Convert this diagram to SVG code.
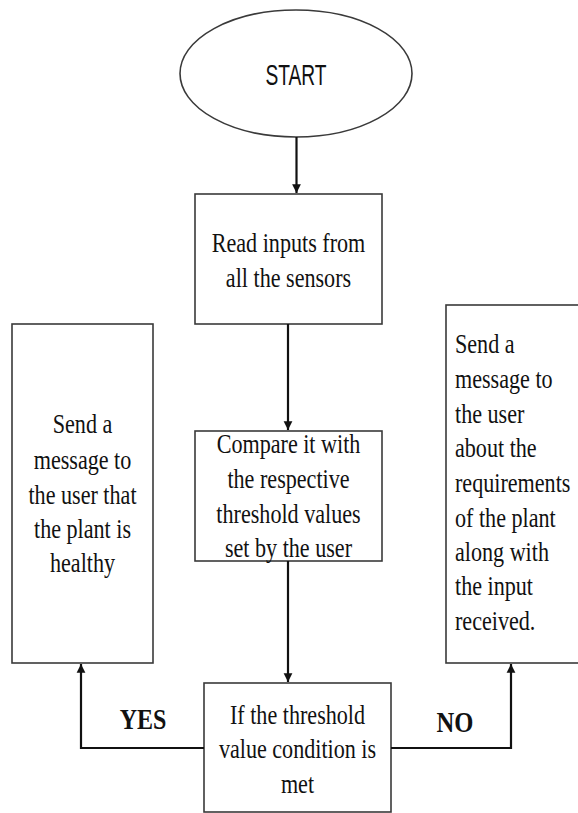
<svg xmlns="http://www.w3.org/2000/svg" width="578" height="813" viewBox="0 0 578 813">
<style>
.box{fill:#fff;stroke:#3a3a3a;stroke-width:1.6}
.t{font-size:28px;fill:#111}
.c{text-anchor:middle}
.lbl{font-size:30px;font-weight:bold;fill:#111;text-anchor:middle}
.conn{fill:none;stroke:#111;stroke-width:2.2}
</style>
<defs>
<marker id="ah" viewBox="0 0 10 10" refX="10" refY="5" markerWidth="4" markerHeight="4.5" orient="auto" markerUnits="strokeWidth">
<path d="M0,0 L10,5 L0,10 z" fill="#111"/>
</marker>
</defs>
<rect width="578" height="813" fill="#fff"/>
<g id="start">
<ellipse cx="296" cy="73.5" rx="116" ry="63.5" class="box"/>
<g transform="translate(296,0) scale(0.64,1)"><text x="0" y="85" class="c" font-family="Liberation Sans, Arial, sans-serif" font-size="30" fill="#111">START</text></g>
</g>
<g font-family="Liberation Serif, Times New Roman, serif">
<g id="read">
<rect x="195" y="194" width="187" height="130" class="box"/>
<g transform="translate(288.5,0) scale(0.79,1)">
<text x="0" y="252" class="t c">Read inputs from</text>
<text x="0" y="287" class="t c">all the sensors</text>
</g>
</g>
<g id="compare">
<rect x="195" y="431" width="187" height="130" class="box"/>
<g transform="translate(288.5,0) scale(0.79,1)">
<text x="0" y="453" class="t c">Compare it with</text>
<text x="0" y="488" class="t c">the respective</text>
<text x="0" y="523" class="t c">threshold values</text>
<text x="0" y="557" class="t c">set by the user</text>
</g>
</g>
<g id="decision">
<rect x="204" y="683" width="187" height="129" class="box"/>
<g transform="translate(297.5,0) scale(0.79,1)">
<text x="0" y="724" class="t c">If the threshold</text>
<text x="0" y="758" class="t c">value condition is</text>
<text x="0" y="793" class="t c">met</text>
</g>
</g>
<g id="healthy">
<rect x="12" y="324" width="141" height="339" class="box"/>
<g transform="translate(82.5,0) scale(0.79,1)">
<text x="0" y="433" class="t c">Send a</text>
<text x="0" y="469" class="t c">message to</text>
<text x="0" y="504" class="t c">the user that</text>
<text x="0" y="538" class="t c">the plant is</text>
<text x="0" y="572" class="t c">healthy</text>
</g>
</g>
<g id="requirements">
<rect x="446" y="305" width="136" height="358" class="box"/>
<g transform="translate(455,0) scale(0.79,1)">
<text x="0" y="353" class="t">Send a</text>
<text x="0" y="388" class="t">message to</text>
<text x="0" y="423" class="t">the user</text>
<text x="0" y="457" class="t">about the</text>
<text x="0" y="492" class="t">requirements</text>
<text x="0" y="527" class="t">of the plant</text>
<text x="0" y="561" class="t">along with</text>
<text x="0" y="595" class="t">the input</text>
<text x="0" y="630" class="t">received.</text>
</g>
</g>
<g id="connectors">
<path d="M296.5,137 V193" class="conn" marker-end="url(#ah)"/>
<path d="M288,324 V430" class="conn" marker-end="url(#ah)"/>
<path d="M288,561 V682" class="conn" marker-end="url(#ah)"/>
<path d="M204,748 H81 V664" class="conn" marker-end="url(#ah)"/>
<path d="M391,748 H511 V664" class="conn" marker-end="url(#ah)"/>
<g transform="translate(143,0) scale(0.8,1)"><text x="0" y="729" class="lbl">YES</text></g>
<g transform="translate(455,0) scale(0.82,1)"><text x="0" y="732" class="lbl">NO</text></g>
</g>
</g>
</svg>
